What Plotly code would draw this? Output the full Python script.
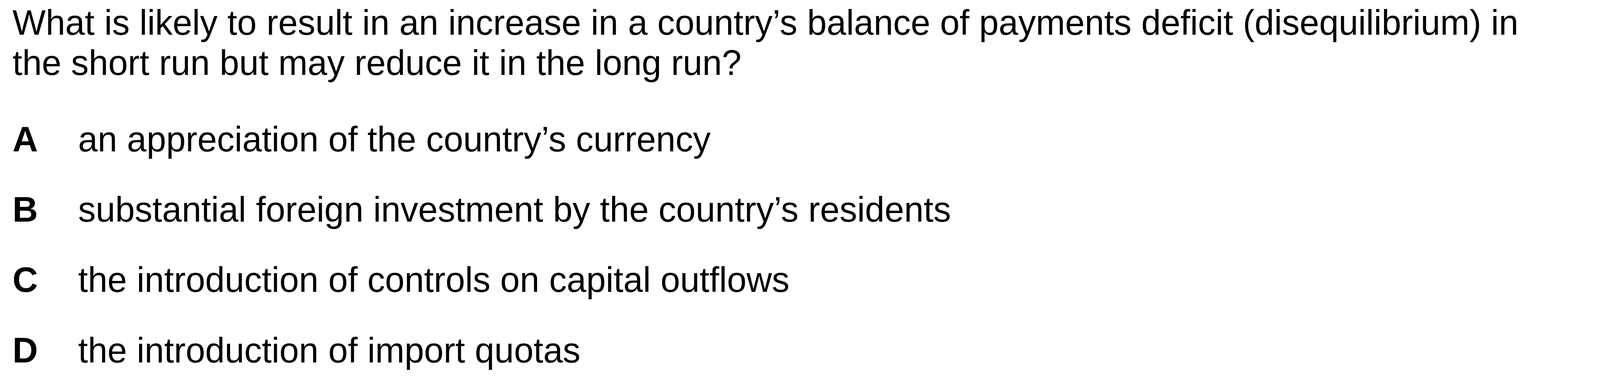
import plotly.graph_objects as go

W = 4201
H = 997

question_lines = [
    "What is likely to result in an increase in a country’s balance of payments deficit (disequilibrium) in",
    "the short run but may reduce it in the long run?",
]
option_letters = ["A", "B", "C", "D"]
option_texts = [
    "an appreciation of the country’s currency",
    "substantial foreign investment by the country’s residents",
    "the introduction of controls on capital outflows",
    "the introduction of import quotas",
]

FONT = "Liberation Sans, Arial, sans-serif"
SIZE = 90

# baselines (px from top)
q_base = [97, 200]
opt_base = [396, 576, 756, 937]
off = 0.30 * SIZE + 20  # baseline -> annotation middle


def txt_ann(x, y, s):
    return dict(x=x, y=y, text=s, xanchor="left", yanchor="middle",
                showarrow=False, borderpad=0,
                font=dict(family=FONT, size=SIZE, color="black"))


fig = go.Figure()
anns = []
for line, b in zip(question_lines, q_base):
    anns.append(txt_ann(23, b - off, line))
for letter, s, b in zip(option_letters, option_texts, opt_base):
    anns.append(txt_ann(23, b - off, "<b>" + letter + "</b>"))
    anns.append(txt_ann(191, b - off, s))

fig.update_layout(
    width=W, height=H,
    margin=dict(l=0, r=0, t=0, b=0),
    plot_bgcolor="white", paper_bgcolor="white",
    xaxis=dict(range=[0, W], visible=False, fixedrange=True),
    yaxis=dict(range=[H, 0], visible=False, fixedrange=True),
    annotations=anns,
    showlegend=False,
)
fig.write_html("out.html", config={"displayModeBar": False})
